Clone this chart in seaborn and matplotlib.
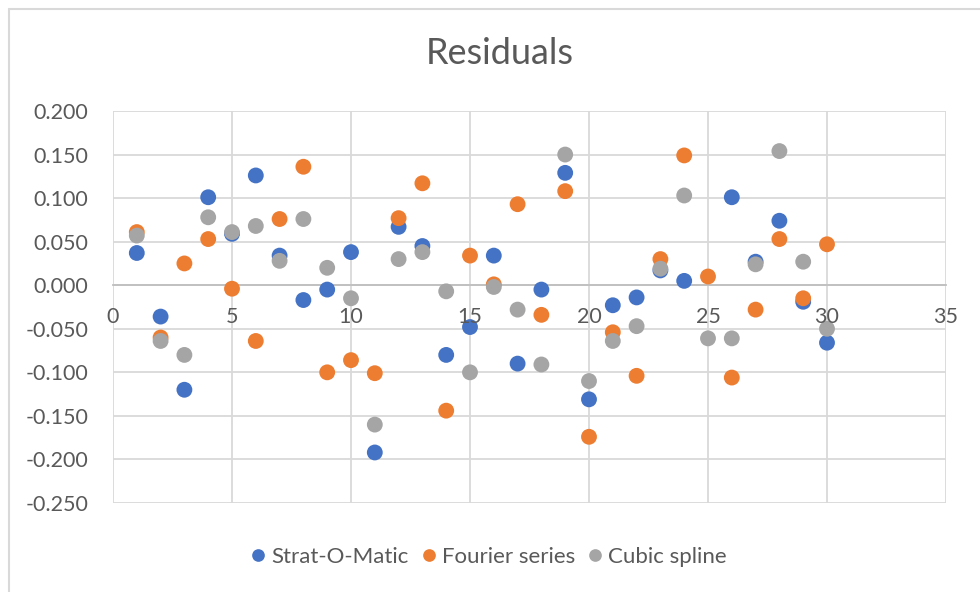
import numpy as np
import pandas as pd
import seaborn as sns
import matplotlib.pyplot as plt
from matplotlib.lines import Line2D
from matplotlib.transforms import ScaledTranslation

# Residual values for each game index
games = list(range(1, 31))
strat_o_matic = [0.037, -0.036, -0.120, 0.101, 0.059, 0.126, 0.034, -0.017, -0.005, 0.038,
                 -0.192, 0.067, 0.045, -0.080, -0.048, 0.034, -0.090, -0.005, 0.129, -0.131,
                 -0.023, -0.014, 0.017, 0.005, np.nan, 0.101, 0.027, 0.074, -0.019, -0.066]
fourier_series = [0.061, -0.060, 0.025, 0.053, -0.004, -0.064, 0.076, 0.136, -0.100, -0.086,
                  -0.101, 0.077, 0.117, -0.144, 0.034, 0.001, 0.093, -0.034, 0.108, -0.174,
                  -0.054, -0.104, 0.030, 0.149, 0.010, -0.106, -0.028, 0.053, -0.015, 0.047]
cubic_spline = [0.057, -0.064, -0.080, 0.078, 0.061, 0.068, 0.028, 0.076, 0.020, -0.015,
                -0.160, 0.030, 0.038, -0.007, -0.100, -0.002, -0.028, -0.091, 0.150, -0.110,
                -0.064, -0.047, 0.019, 0.103, -0.061, -0.061, 0.024, 0.154, 0.027, -0.050]

series_names = ["Strat-O-Matic", "Fourier series", "Cubic spline"]
colors = ["#4472C4", "#ED7D31", "#A5A5A5"]

y_ticks = [-0.25, -0.20, -0.15, -0.10, -0.05, 0.0, 0.05, 0.10, 0.15, 0.20]
y_tick_labels = ["-0.250", "-0.200", "-0.150", "-0.100", "-0.050",
                 "0.000", "0.050", "0.100", "0.150", "0.200"]
x_ticks = [0, 5, 10, 15, 20, 25, 30, 35]
x_tick_labels = ["0", "5", "10", "15", "20", "25", "30", "35"]

df = pd.concat([
    pd.DataFrame({"x": games, "y": vals, "series": name})
    for name, vals in zip(series_names, [strat_o_matic, fourier_series, cubic_spline])
], ignore_index=True).dropna()

sns.set_theme(style="white")
plt.rcParams["font.family"] = ["Lato", "DejaVu Sans"]

text_color = "#595959"
grid_color = "#D9D9D9"
label_size = 15.5

fig = plt.figure(figsize=(9.8, 5.92), dpi=100)
ax = fig.add_axes([113 / 980, 1 - 503 / 592, (946 - 113) / 980, (503 - 111) / 592])

sns.scatterplot(data=df, x="x", y="y", hue="series", hue_order=series_names,
                palette=colors, s=130, edgecolor="none", linewidth=0, ax=ax, legend=True,
                zorder=3)

ax.set_xlim(0, 35)
ax.set_ylim(-0.25, 0.2)
ax.set_xticks(x_ticks)
ax.set_xticklabels([])
ax.set_yticks(y_ticks)
ax.set_yticklabels(y_tick_labels)
ax.grid(True, color=grid_color, linewidth=1.3)
ax.set_axisbelow(True)

for side in ["top", "right", "left"]:
    ax.spines[side].set_visible(False)
ax.spines["bottom"].set_position(("data", 0))
ax.spines["bottom"].set_color("#BFBFBF")
ax.spines["bottom"].set_linewidth(1.3)

ax.tick_params(axis="both", length=0, labelsize=label_size, labelcolor=text_color)
ax.tick_params(axis="y", pad=18)
ax.set_xlabel("")
ax.set_ylabel("")

# x-axis labels sit just under the zero line, drawn above the markers
below_zero = ax.transData + ScaledTranslation(0, -0.32, fig.dpi_scale_trans)
for xv, lab in zip(x_ticks, x_tick_labels):
    ax.text(xv, 0, lab, transform=below_zero, ha="center", va="center",
            fontsize=label_size, color=text_color, zorder=5, clip_on=False)

fig.text(500 / 980, 1 - 54 / 592, "Residuals", ha="center", va="center",
         fontsize=26, color=text_color)

handles, labels = ax.get_legend_handles_labels()
ax.legend(handles, labels, loc="center", bbox_to_anchor=(488 / 980, 1 - 557 / 592),
          bbox_transform=fig.transFigure, ncol=3, frameon=False, fontsize=16,
          labelcolor=text_color, handlelength=0.8, handletextpad=0.2,
          columnspacing=0.5, markerscale=0.8)

# chart-area frame: left and top edges
x0, y0 = 8.5 / 980, 1 - 8.5 / 592
fig.add_artist(Line2D([x0, x0], [0, y0], transform=fig.transFigure,
                      color=grid_color, linewidth=1.5))
fig.add_artist(Line2D([x0, 1], [y0, y0], transform=fig.transFigure,
                      color=grid_color, linewidth=1.5))

fig.savefig("out.png", dpi=100)
